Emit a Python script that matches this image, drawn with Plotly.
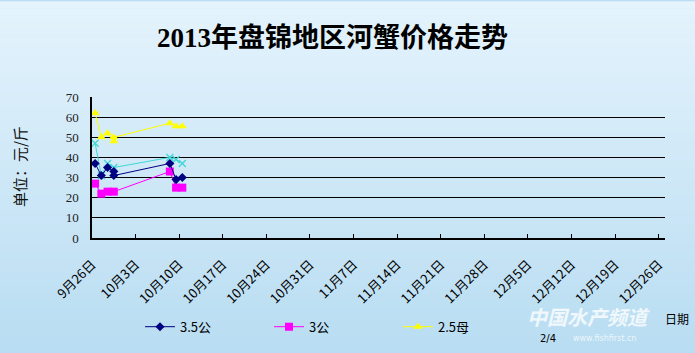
import plotly.graph_objects as go

# ---- data ----
dates_35 = ["2013-09-26", "2013-09-27", "2013-09-28", "2013-09-29", "2013-09-29",
            "2013-10-08", "2013-10-09", "2013-10-10"]
vals_35 = [37, 31, 35, 33, 31, 37, 29, 30]

dates_3 = ["2013-09-26", "2013-09-27", "2013-09-28", "2013-09-29",
           "2013-10-08", "2013-10-09", "2013-10-10"]
vals_3 = [27, 22, 23, 23, 33, 25, 25]

dates_25 = ["2013-09-26", "2013-09-27", "2013-09-28", "2013-09-29", "2013-09-29",
            "2013-10-08", "2013-10-09", "2013-10-10"]
vals_25 = [62, 50, 52, 48, 50, 57, 55.5, 55.5]

dates_cy = ["2013-09-26", "2013-09-27", "2013-09-28", "2013-09-29",
            "2013-10-08", "2013-10-09", "2013-10-10"]
vals_cy = [47, 31, 37, 35, 40, 39, 37]

names = ["3.5公", "3公", "2.5母"]
title_text = "2013年盘锦地区河蟹价格走势"
y_title = "单位：元/斤"
x_title = "日期"

W, H = 695, 353
L, R, T, B = 92, 665, 97, 240  # plot area in px


def mid(ds):
    # points sit in the middle of each day slot
    return [d + " 12:00" for d in ds]


fig = go.Figure()

fig.add_trace(go.Scatter(x=mid(dates_cy), y=vals_cy, mode="lines+markers", showlegend=False,
                         line=dict(color="#3fd6d6", width=1),
                         marker=dict(symbol="x-thin", size=7, color="#3fd6d6",
                                     line=dict(color="#3fd6d6", width=1.3))))
fig.add_trace(go.Scatter(x=mid(dates_3), y=vals_3, mode="lines+markers", name=names[1],
                         line=dict(color="#ff00ff", width=1),
                         marker=dict(symbol="square", size=8, color="#ff00ff")))
fig.add_trace(go.Scatter(x=mid(dates_25), y=vals_25, mode="lines+markers", name=names[2],
                         line=dict(color="#ffff00", width=1),
                         marker=dict(symbol="triangle-up", size=8, color="#ffff00")))
fig.add_trace(go.Scatter(x=mid(dates_35), y=vals_35, mode="lines+markers", name=names[0],
                         line=dict(color="#000080", width=1),
                         marker=dict(symbol="diamond", size=7, color="#000080")))

# gradient background bands
pw, ph = R - L, B - T
shapes = []
n = 50
top = (0xe4, 0xf3, 0xfc)
bot = (0xb9, 0xdd, 0xf2)
for i in range(n):
    f = i / (n - 1)
    c = tuple(int(round(top[k] + (bot[k] - top[k]) * f)) for k in range(3))
    y0 = i * H / n
    y1 = (i + 1) * H / n + 0.5
    shapes.append(dict(type="rect", xref="paper", yref="paper", layer="below",
                       x0=(0 - L) / pw, x1=(W - L) / pw,
                       y0=(B - y1) / ph, y1=(B - y0) / ph,
                       line=dict(width=0), fillcolor="rgb(%d,%d,%d)" % c))

cjk = "Noto Sans CJK SC"


def px_ann(text, x, y, font, xanchor="center", **kw):
    return dict(text=text, xref="paper", yref="paper", x=(x - L) / pw, y=(B - y) / ph,
                xanchor=xanchor, yanchor="middle", showarrow=False, font=font, **kw)


annotations = [
    px_ann("<b>" + title_text + "</b>", 332, 37,
           dict(family="Liberation Serif, Noto Sans CJK SC", size=27, color="#000")),
    px_ann(y_title, 19, 168, dict(family=cjk, size=15, color="#111"), textangle=-90),
    px_ann("<b><i>中国水产频道</i></b>", 588, 320,
           dict(family=cjk, size=20, color="rgba(255,255,255,0.8)")),
    px_ann("www.fishfirst.cn", 604, 342,
           dict(family="DejaVu Sans", size=8, color="rgba(255,255,255,0.75)")),
    px_ann("2/4", 548, 342, dict(family="DejaVu Sans", size=10, color="#000")),
    px_ann(x_title, 677, 322, dict(family=cjk, size=12, color="#000")),
]

fig.update_layout(
    width=W, height=H,
    margin=dict(l=L, r=W - R, t=T, b=H - B, pad=0),
    paper_bgcolor="rgb(%d,%d,%d)" % bot,
    plot_bgcolor="rgba(0,0,0,0)",
    shapes=shapes,
    annotations=annotations,
    showlegend=True,
    legend=dict(orientation="h", x=(140 - L) / pw, y=(B - 330) / ph, yanchor="middle",
                xanchor="left", traceorder="normal", entrywidth=84, entrywidthmode="pixels",
                bgcolor="rgba(0,0,0,0)", font=dict(family=cjk, size=13, color="#000")),
    xaxis=dict(type="date", range=["2013-09-26", "2013-12-27 00:00"],
               tick0="2013-09-26", dtick=7 * 86400000, tickformat="%-m月%-d日",
               tickangle=-45, ticks="inside", ticklen=4, tickcolor="#000",
               showline=True, linecolor="#000", linewidth=1.5, showgrid=False,
               zeroline=False, tickfont=dict(family=cjk, size=13, color="#000"),
               ticklabelstandoff=12),
    yaxis=dict(range=[0, 70], dtick=10, showgrid=True, gridcolor="#000", gridwidth=1,
               showline=True, linecolor="#000", linewidth=1.5, zeroline=False,
               ticks="", tickfont=dict(family="Liberation Serif", size=13, color="#222"),
               ticklabelstandoff=9),
)

# legend order: 3.5公, 3公, 2.5母
fig.data[3].legendrank = 1
fig.data[1].legendrank = 2
fig.data[2].legendrank = 3

fig.write_html("out.html")
